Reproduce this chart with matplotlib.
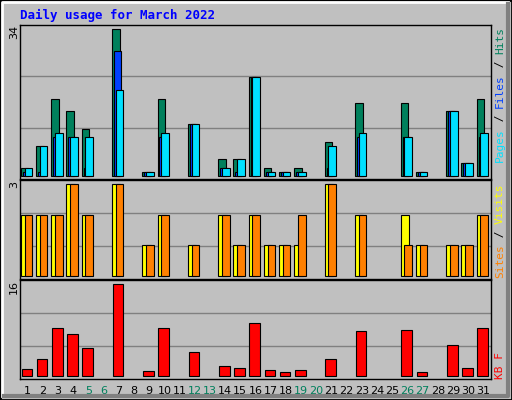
import matplotlib
matplotlib.use('Agg')
import matplotlib.pyplot as plt
from matplotlib.patches import Rectangle
from matplotlib.lines import Line2D

days = list(range(1, 32))
weekends = [5, 6, 12, 13, 19, 20, 26, 27]

hits = [2, 7, 18, 15, 11, 0, 34, 0, 1, 18, 0, 12, 0, 4, 4, 23, 2, 1, 2, 0, 8, 0, 17, 0, 0, 17, 1, 0, 15, 3, 18]
files = [1, 1, 9, 9, 2, 0, 29, 0, 1, 9, 0, 12, 0, 2, 1, 23, 1, 1, 1, 0, 2, 0, 9, 0, 0, 9, 1, 0, 15, 3, 9]
pages = [2, 7, 10, 9, 9, 0, 20, 0, 1, 10, 0, 12, 0, 2, 4, 23, 1, 1, 1, 0, 7, 0, 10, 0, 0, 9, 1, 0, 15, 3, 10]
visits = [2, 2, 2, 3, 2, 0, 3, 0, 1, 2, 0, 1, 0, 2, 1, 2, 1, 1, 1, 0, 3, 0, 2, 0, 0, 2, 1, 0, 1, 1, 2]
sites = [2, 2, 2, 3, 2, 0, 3, 0, 1, 2, 0, 1, 0, 2, 1, 2, 1, 1, 2, 0, 3, 0, 2, 0, 0, 1, 1, 0, 1, 1, 2]
kbytes = [1.1, 2.85, 8.3, 7.2, 4.8, 0, 16, 0, 0.75, 8.3, 0, 4.2, 0, 1.6, 1.3, 9.1, 0.9, 0.6, 0.9, 0, 2.85, 0, 7.7, 0, 0, 7.9, 0.6, 0, 5.3, 1.3, 8.3]

BG = '#C0C0C0'
W, H = 512, 400
fig = plt.figure(figsize=(W / 100, H / 100), dpi=100, facecolor=BG)
mono = 'DejaVu Sans Mono'


def px_axes(x0, y0, x1, y1):
    ax = fig.add_axes([x0 / W, 1 - y1 / H, (x1 - x0) / W, (y1 - y0) / H])
    ax.set_facecolor(BG)
    ax.set_xlim(0.5, 31.5)
    ax.set_xticks([])
    ax.set_yticks([])
    for s in ax.spines.values():
        s.set_color('black')
        s.set_linewidth(1)
    for f in (1 / 3, 2 / 3):
        ax.plot([0, 1], [f, f], color='#808080', lw=1, transform=ax.transAxes, zorder=0)
    return ax


def bars(ax, vals, left, width, color):
    nz = [(d, v) for d, v in zip(days, vals) if v > 0]
    ax.bar([d + left for d, _ in nz], [v for _, v in nz], width=width, align='edge',
           color=color, edgecolor='black', linewidth=0.8, zorder=2)


# frame
fig.patches.append(Rectangle((0, 0), 1, 1, transform=fig.transFigure, fill=False,
                             edgecolor='black', lw=2))
fig.lines.append(Line2D([2 / W, 2 / W, 1 - 4 / W], [4 / H, 1 - 2 / H, 1 - 2 / H],
                        transform=fig.transFigure, color='white', lw=2))
fig.lines.append(Line2D([4 / W, 1 - 4 / W, 1 - 4 / W], [4 / H, 4 / H, 1 - 4 / H],
                        transform=fig.transFigure, color='#808080', lw=3))

fig.text(20 / W, 1 - 15 / H, 'Daily usage for March 2022', color='#0000FF', family=mono,
         weight='bold', fontsize=9, va='center')

# top panel
ax1 = px_axes(20, 25, 491, 179)
ax1.set_ylim(-8 * 34 / 442, 34 + 13 * 34 / 442)
bars(ax1, hits, -0.45, 0.5, '#00805C')
bars(ax1, files, -0.32, 0.5, '#0040FF')
bars(ax1, pages, -0.2, 0.5, '#00E0FF')
fig.text(14 / W, 1 - 32 / H, '34', rotation=90, fontsize=8, ha='center', va='center')

# middle panel
ax2 = px_axes(20, 180, 491, 279)
ax2.set_ylim(-8 * 3 / 278, 3 + 11 * 3 / 278)
bars(ax2, visits, -0.45, 0.55, '#FFFF00')
bars(ax2, sites, -0.2, 0.5, '#FF8000')
fig.text(14 / W, 1 - 184 / H, '3', rotation=90, fontsize=8, ha='center', va='center')

# bottom panel
ax3 = px_axes(20, 280, 491, 379)
ax3.set_ylim(-10 * 16 / 275, 16 + 11 * 16 / 275)
bars(ax3, kbytes, -0.4, 0.7, '#FF0000')
fig.text(14 / W, 1 - 287 / H, '16', rotation=90, fontsize=8, ha='center', va='center')

for d in days:
    ax3.text(d, -0.07, str(d), transform=ax3.get_xaxis_transform(), ha='center', va='top',
             fontsize=8, color='#00805C' if d in weekends else 'black')


def side_label(y_top, parts):
    y = 1 - y_top / H
    for txt, col in parts:
        t = fig.text(500 / W, y, txt, rotation=90, color=col, family=mono, fontsize=8,
                     ha='center', va='top')
        fig.canvas.draw()
        bb = t.get_window_extent()
        y -= bb.height / H


side_label(27, [('Hits', '#00805C'), (' / ', 'black'), ('Files', '#0040FF'),
                (' / ', 'black'), ('Pages', '#00E0FF')])
side_label(183, [('Visits', '#FFFF00'), (' / ', 'black'), ('Sites', '#FF8000')])
side_label(352, [('KB F', '#FF0000')])

fig.savefig('out.png', dpi=100, facecolor=BG)
